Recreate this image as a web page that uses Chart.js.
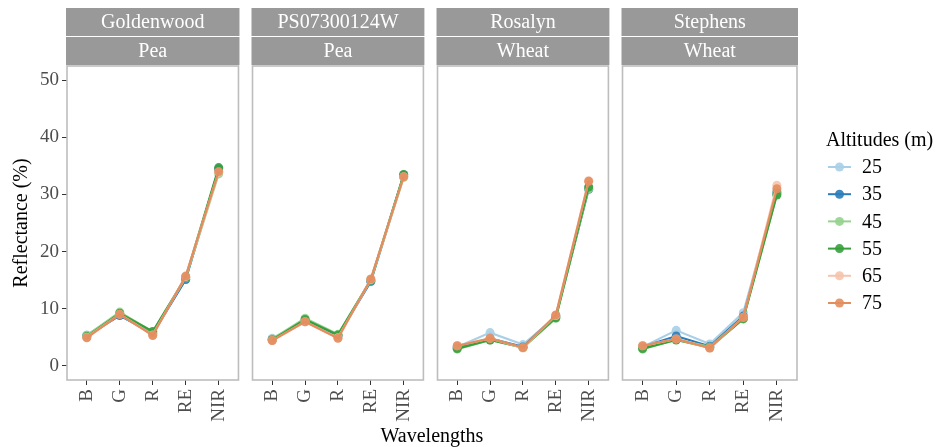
<!DOCTYPE html>
<html>
<head>
<meta charset="utf-8">
<script src="https://cdn.jsdelivr.net/npm/chart.js@4.4.1/dist/chart.umd.min.js"></script>
<style>
  body { margin: 0; background: #fff; }
  #wrap { position: relative; width: 942px; height: 447px; overflow: hidden; font-family: 'Liberation Serif', serif; }
  canvas { position: absolute; top: 0; }
  #xtitle { position: absolute; left: 67px; width: 730px; top: 424px; text-align: center; font-size: 20px; color: #000; }
</style>
</head>
<body>
<div id="wrap">
  <canvas id="p0"></canvas>
  <canvas id="p1"></canvas>
  <canvas id="p2"></canvas>
  <canvas id="p3"></canvas>
  <div id="xtitle">Wavelengths</div>
</div>
<script>
// categories
const wavelengths = ['B', 'G', 'R', 'RE', 'NIR'];
const altitudes = ['25', '35', '45', '55', '65', '75'];
const varieties = ['Goldenwood', 'PS07300124W', 'Rosalyn', 'Stephens'];
const crops = ['Pea', 'Pea', 'Wheat', 'Wheat'];
const yTicks = [0, 10, 20, 30, 40, 50];

// reflectance (%) per altitude, order B G R RE NIR
const goldenwood = [
  [5.4, 8.9, 5.7, 15.2, 34.3],
  [5.2, 8.8, 5.6, 15.1, 34.5],
  [5.3, 9.4, 5.9, 15.4, 33.6],
  [5.1, 9.2, 6.0, 15.5, 34.7],
  [5.0, 9.0, 5.4, 15.6, 33.9],
  [4.9, 9.0, 5.3, 15.7, 34.0]
];
const ps07300124w = [
  [4.8, 7.8, 5.3, 14.7, 33.2],
  [4.6, 7.9, 5.2, 14.8, 33.4],
  [4.7, 8.3, 5.5, 15.0, 33.0],
  [4.5, 8.1, 5.4, 15.0, 33.5],
  [4.4, 7.7, 4.9, 15.1, 33.1],
  [4.4, 7.7, 4.8, 15.2, 33.1]
];
const rosalyn = [
  [3.3, 5.8, 3.7, 8.6, 31.2],
  [3.2, 4.8, 3.3, 8.7, 30.9],
  [2.9, 4.5, 3.2, 8.3, 31.0],
  [3.0, 4.5, 3.2, 8.4, 31.3],
  [3.5, 4.8, 3.1, 8.8, 32.4],
  [3.5, 4.8, 3.2, 8.9, 32.3]
];
const stephens = [
  [3.3, 6.2, 3.8, 9.3, 30.6],
  [3.3, 5.2, 3.4, 8.7, 30.3],
  [2.9, 4.6, 3.3, 8.3, 30.1],
  [3.0, 4.5, 3.2, 8.2, 29.9],
  [3.5, 4.7, 3.1, 8.5, 31.6],
  [3.5, 4.7, 3.1, 8.5, 31.0]
];
const panelData = [goldenwood, ps07300124w, rosalyn, stephens];

const colors = ['#a9cfe6', '#2a7cba', '#95d38f', '#37a03c', '#f6c4ac', '#e38d5e'];

const FONT = "'Liberation Serif', serif";
const H = 447;
// plot area left edges, width, top/bottom
const plotLeft = [67, 252, 437, 622];
const plotW = 175;
const plotTop = 66, plotBottom = 380;

function alpha(hex, a) {
  const n = parseInt(hex.slice(1), 16);
  return `rgba(${n >> 16},${(n >> 8) & 255},${n & 255},${a})`;
}

const panelDecor = {
  id: 'panelDecor',
  beforeDraw(chart, args, opts) {
    const { ctx, chartArea: a } = chart;
    ctx.save();
    ctx.fillStyle = '#fff';
    ctx.fillRect(a.left, a.top, a.right - a.left, a.bottom - a.top);
    // strips
    ctx.fillStyle = '#999999';
    ctx.fillRect(a.left - 1, 8, a.right - a.left + 2, 28);
    ctx.fillRect(a.left - 1, 37, a.right - a.left + 2, 28);
    ctx.fillStyle = '#fff';
    ctx.font = `20px ${FONT}`;
    ctx.textAlign = 'center';
    ctx.textBaseline = 'middle';
    const cx = (a.left + a.right) / 2;
    ctx.fillText(opts.variety, cx, 22.5);
    ctx.fillText(opts.crop, cx, 51.5);
    ctx.restore();
  },
  afterDraw(chart) {
    const { ctx, chartArea: a } = chart;
    ctx.save();
    ctx.strokeStyle = '#bdbdbd';
    ctx.lineWidth = 1.6;
    ctx.strokeRect(a.left, a.top, a.right - a.left, a.bottom - a.top);
    ctx.restore();
  }
};

const altLegend = {
  id: 'altLegend',
  afterDraw(chart, args, opts) {
    if (!opts.show) return;
    const { ctx } = chart;
    const off = opts.offset;
    ctx.save();
    ctx.fillStyle = '#000';
    ctx.font = `20px ${FONT}`;
    ctx.textBaseline = 'middle';
    ctx.textAlign = 'left';
    ctx.fillText('Altitudes (m)', 826 - off, 141);
    chart.data.datasets.forEach((ds, i) => {
      const y = 167 + i * 27.2;
      ctx.strokeStyle = ds.borderColor;
      ctx.lineWidth = 2;
      ctx.beginPath();
      ctx.moveTo(828 - off, y);
      ctx.lineTo(851 - off, y);
      ctx.stroke();
      ctx.fillStyle = ds.pointBackgroundColor;
      ctx.beginPath();
      ctx.arc(839.5 - off, y, 4.5, 0, Math.PI * 2);
      ctx.fill();
      ctx.fillStyle = '#000';
      ctx.fillText(ds.label, 862 - off, y + 1);
    });
    ctx.restore();
  }
};

panelData.forEach((rows, p) => {
  const first = p === 0;
  const last = p === panelData.length - 1;
  const left = first ? 0 : plotLeft[p] - 4;
  const width = last ? 942 - left : plotLeft[p] + plotW + 4 - left;
  const cv = document.getElementById('p' + p);
  cv.style.left = left + 'px';
  cv.width = width;
  cv.height = H;
  cv.style.width = width + 'px';
  cv.style.height = H + 'px';

  new Chart(cv, {
    type: 'line',
    data: {
      datasets: rows.map((vals, i) => ({
        label: altitudes[i],
        data: vals.map((v, k) => ({ x: k + 1, y: v })),
        borderColor: colors[i],
        borderWidth: 2.2,
        pointBackgroundColor: alpha(colors[i], 0.9),
        pointBorderWidth: 0,
        pointRadius: 4.5,
        tension: 0,
        // later altitudes drawn on top
        order: rows.length - i
      }))
    },
    options: {
      responsive: false,
      animation: false,
      layout: {
        padding: {
          left: first ? 0 : 4,
          right: (left + width) - (plotLeft[p] + plotW),
          top: plotTop,
          bottom: 0
        }
      },
      plugins: {
        legend: { display: false },
        tooltip: { enabled: false },
        panelDecor: { variety: varieties[p], crop: crops[p] },
        altLegend: { show: last, offset: left }
      },
      scales: {
        x: {
          type: 'linear',
          min: 0.4,
          max: 5.6,
          afterBuildTicks: s => { s.ticks = wavelengths.map((w, k) => ({ value: k + 1 })); },
          afterFit: s => { s.height = H - plotBottom; },
          ticks: {
            callback: v => wavelengths[v - 1],
            autoSkip: false,
            minRotation: 90,
            maxRotation: 90,
            padding: 4,
            color: '#4d4d4d',
            font: { family: FONT, size: 19 }
          },
          grid: { drawOnChartArea: false, tickLength: 5, color: '#333' },
          border: { display: false }
        },
        y: {
          display: first,
          min: -2.5,
          max: 52.5,
          afterBuildTicks: s => { s.ticks = yTicks.map(v => ({ value: v })); },
          afterFit: s => { s.width = first ? plotLeft[0] : 0; },
          ticks: {
            padding: 3,
            color: '#4d4d4d',
            font: { family: FONT, size: 19 }
          },
          grid: { drawOnChartArea: false, tickLength: 5, color: '#333' },
          border: { display: false },
          title: {
            display: true,
            text: 'Reflectance (%)',
            color: '#000',
            padding: { top: 10, bottom: 0 },
            font: { family: FONT, size: 20 }
          }
        }
      }
    },
    plugins: [panelDecor, altLegend]
  });
});
</script>
</body>
</html>
